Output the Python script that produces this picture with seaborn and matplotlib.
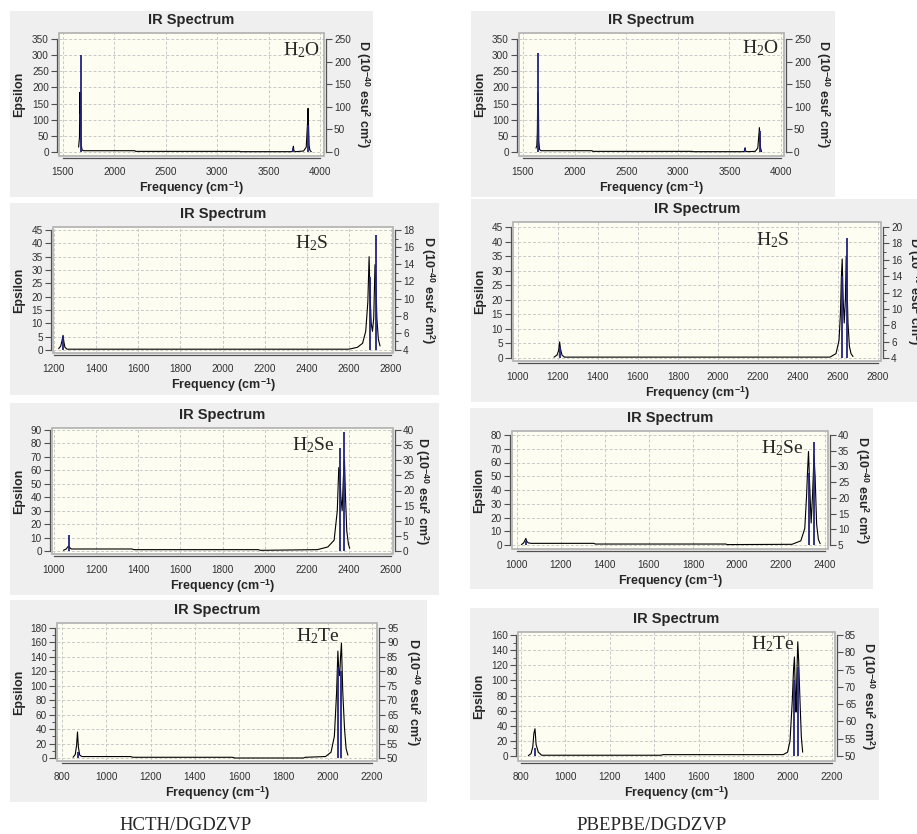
import matplotlib
matplotlib.use("Agg")
import matplotlib.pyplot as plt
from matplotlib.patches import Rectangle
from matplotlib.ticker import MultipleLocator
import seaborn as sns

W, H = 917, 834

# ---- spectra: frequency (cm-1), epsilon curve, sticks (D, 1e-40 esu2 cm2)
h2o_hcth_freq = [1652, 1660, 1665, 1668, 1671, 1674, 1678, 1686, 1700, 2200, 2205, 3220, 3225,
                 3725, 3736, 3741, 3746, 3760, 3840, 3866, 3878, 3884, 3889, 3894, 3902, 3915]
h2o_hcth_eps = [15, 45, 185, 120, 165, 60, 20, 6, 4, 4, 2, 2, 1,
                1, 5, 18, 4, 1, 3, 15, 85, 135, 78, 20, 5, 1]
h2o_hcth_stick_freq = [1671, 3741, 3886]
h2o_hcth_stick_d = [214, 8, 60]

h2o_pbe_freq = [1626, 1634, 1639, 1643, 1646, 1649, 1653, 1660, 1675, 2170, 2175, 3140, 3145,
                3635, 3647, 3652, 3657, 3670, 3750, 3775, 3786, 3791, 3796, 3802, 3812]
h2o_pbe_eps = [12, 20, 60, 185, 150, 160, 35, 8, 4, 4, 2, 2, 1,
               1, 4, 13, 3, 1, 2, 12, 55, 75, 40, 12, 1]
h2o_pbe_stick_freq = [1646, 3652, 3792]
h2o_pbe_stick_d = [218, 8, 46]

h2s_hcth_freq = [1222, 1232, 1238, 1243, 1247, 1252, 1262, 1280, 2600, 2640, 2665, 2680, 2690,
                 2696, 2700, 2706, 2712, 2718, 2724, 2728, 2733, 2740, 2748]
h2s_hcth_eps = [0.5, 1.5, 3.5, 5.5, 3, 1, 0.3, 0.3, 0.3, 1, 2.5, 7, 18,
                35, 22, 10, 7, 12, 32, 26, 12, 4, 1.5]
h2s_hcth_stick_freq = [1245, 2698, 2728]
h2s_hcth_stick_d = [5.6, 12.5, 17.4]

h2s_pbe_freq = [1180, 1195, 1203, 1208, 1213, 1220, 1232, 1250, 2560, 2590, 2605, 2612, 2617,
                2621, 2626, 2631, 2637, 2641, 2645, 2650, 2657, 2665, 2675]
h2s_pbe_eps = [0.3, 1, 2.5, 5.5, 3, 1, 0.3, 0.3, 0.3, 1.5, 6, 15, 28,
               34, 20, 12, 20, 35, 25, 12, 4, 1.5, 0.5]
h2s_pbe_stick_freq = [1210, 2621, 2643]
h2s_pbe_stick_d = [5.4, 14.0, 18.6]

h2se_hcth_freq = [1045, 1058, 1065, 1070, 1075, 1082, 1095, 1370, 1380, 1970, 1980, 2250, 2300,
                  2330, 2345, 2352, 2357, 2362, 2368, 2374, 2379, 2384, 2390, 2398, 2404]
h2se_hcth_eps = [0.5, 1.5, 3, 3.5, 2.5, 1.5, 1.5, 1.5, 1, 1, 0.5, 1, 3,
                 8, 30, 62, 60, 40, 30, 55, 68, 40, 15, 5, 2]
h2se_hcth_stick_freq = [1072, 2357, 2379]
h2se_hcth_stick_d = [5.2, 34, 39.5]

h2se_pbe_freq = [1020, 1030, 1035, 1040, 1045, 1052, 1065, 1350, 1355, 1950, 1955, 2250, 2290,
                 2308, 2316, 2321, 2325, 2330, 2337, 2343, 2350, 2355, 2362, 2370, 2378]
h2se_pbe_eps = [0.3, 1.5, 3, 4.8, 2.5, 1.5, 1.2, 1.2, 0.7, 0.7, 0.3, 0.5, 3,
                12, 35, 55, 68, 45, 16, 35, 65, 50, 15, 4, 1]
h2se_pbe_stick_freq = [1040, 2325, 2351]
h2se_pbe_stick_d = [6.3, 28, 37.8]

h2te_hcth_freq = [850, 860, 866, 870, 874, 880, 890, 1110, 1120, 1570, 1580, 1890, 1900, 1990,
                  2015, 2030, 2040, 2046, 2050, 2054, 2058, 2062, 2068, 2076, 2083, 2091]
h2te_hcth_eps = [1, 5, 18, 36, 15, 4, 2, 2, 1, 1, 0, 0, 1, 2,
                 8, 30, 90, 148, 120, 114, 140, 159, 91, 40, 13, 4]
h2te_hcth_stick_freq = [870, 2047, 2060]
h2te_hcth_stick_d = [52, 81.5, 80.2]

h2te_pbe_freq = [833, 845, 853, 858, 863, 868, 878, 893, 1430, 1440, 1980, 2000, 2011, 2021,
                 2027, 2031, 2035, 2038, 2042, 2046, 2050, 2056, 2062, 2068]
h2te_pbe_eps = [0.5, 3, 12, 30, 36, 15, 5, 1, 1, 1.8, 1.8, 5, 20, 72,
                115, 131, 80, 58, 110, 151, 125, 72, 25, 5]
h2te_pbe_stick_freq = [862, 2031, 2046]
h2te_pbe_stick_d = [52.2, 72, 75.8]

# ---- axis ticks
h2o_xticks = [1500, 2000, 2500, 3000, 3500, 4000]
h2o_eps_ticks = [0, 50, 100, 150, 200, 250, 300, 350]
h2o_d_ticks = [0, 50, 100, 150, 200, 250]
h2s_hcth_xticks = [1200, 1400, 1600, 1800, 2000, 2200, 2400, 2600, 2800]
h2s_pbe_xticks = [1000, 1200, 1400, 1600, 1800, 2000, 2200, 2400, 2600, 2800]
h2s_eps_ticks = [0, 5, 10, 15, 20, 25, 30, 35, 40, 45]
h2s_hcth_d_ticks = [4, 6, 8, 10, 12, 14, 16, 18]
h2s_pbe_d_ticks = [4, 6, 8, 10, 12, 14, 16, 18, 20]
h2se_hcth_xticks = [1000, 1200, 1400, 1600, 1800, 2000, 2200, 2400, 2600]
h2se_pbe_xticks = [1000, 1200, 1400, 1600, 1800, 2000, 2200, 2400]
h2se_hcth_eps_ticks = [0, 10, 20, 30, 40, 50, 60, 70, 80, 90]
h2se_pbe_eps_ticks = [0, 10, 20, 30, 40, 50, 60, 70, 80]
h2se_hcth_d_ticks = [0, 5, 10, 15, 20, 25, 30, 35, 40]
h2se_pbe_d_ticks = [5, 10, 15, 20, 25, 30, 35, 40]
h2te_xticks = [800, 1000, 1200, 1400, 1600, 1800, 2000, 2200]
h2te_hcth_eps_ticks = [0, 20, 40, 60, 80, 100, 120, 140, 160, 180]
h2te_pbe_eps_ticks = [0, 20, 40, 60, 80, 100, 120, 140, 160]
h2te_hcth_d_ticks = [50, 55, 60, 65, 70, 75, 80, 85, 90, 95]
h2te_pbe_d_ticks = [50, 55, 60, 65, 70, 75, 80, 85]

molecules = ['H$_\\mathrm{2}$O', 'H$_\\mathrm{2}$S', 'H$_\\mathrm{2}$Se', 'H$_\\mathrm{2}$Te']
methods = ['HCTH/DGDZVP', 'PBEPBE/DGDZVP']

# layout in pixels: grey panel, plot box, pixel of first/last x tick, pixel of first/last left tick
panels = [
    dict(freq=h2o_hcth_freq, eps=h2o_hcth_eps, sf=h2o_hcth_stick_freq, sd=h2o_hcth_stick_d,
         xt=h2o_xticks, lt=h2o_eps_ticks, rt=h2o_d_ticks, mol=molecules[0],
         grey=(10, 11, 373, 197), box=(59, 33, 324, 156), xpx=(63, 320), ypx=(152, 39),
         rlab=363, molpos=(301, 50), lminor=None, rminor=None),
    dict(freq=h2s_hcth_freq, eps=h2s_hcth_eps, sf=h2s_hcth_stick_freq, sd=h2s_hcth_stick_d,
         xt=h2s_hcth_xticks, lt=h2s_eps_ticks, rt=h2s_hcth_d_ticks, mol=molecules[1],
         grey=(10, 203, 439, 395), box=(53, 227, 393, 353), xpx=(54, 391), ypx=(350, 230),
         rlab=428, molpos=(312, 243), lminor=None, rminor=1),
    dict(freq=h2se_hcth_freq, eps=h2se_hcth_eps, sf=h2se_hcth_stick_freq, sd=h2se_hcth_stick_d,
         xt=h2se_hcth_xticks, lt=h2se_hcth_eps_ticks, rt=h2se_hcth_d_ticks, mol=molecules[2],
         grey=(10, 403, 439, 595), box=(52, 428, 393, 554), xpx=(54, 391), ypx=(551, 430),
         rlab=422, molpos=(313, 445), lminor=None, rminor=None),
    dict(freq=h2te_hcth_freq, eps=h2te_hcth_eps, sf=h2te_hcth_stick_freq, sd=h2te_hcth_stick_d,
         xt=h2te_xticks, lt=h2te_hcth_eps_ticks, rt=h2te_hcth_d_ticks, mol=molecules[3],
         grey=(10, 600, 427, 802), box=(57, 623, 377, 761), xpx=(62, 372), ypx=(758, 628),
         rlab=413, molpos=(318, 636), lminor=10, rminor=None),
    dict(freq=h2o_pbe_freq, eps=h2o_pbe_eps, sf=h2o_pbe_stick_freq, sd=h2o_pbe_stick_d,
         xt=h2o_xticks, lt=h2o_eps_ticks, rt=h2o_d_ticks, mol=molecules[0],
         grey=(471, 11, 835, 197), box=(519, 33, 784, 156), xpx=(523, 781), ypx=(152, 39),
         rlab=823, molpos=(760, 48), lminor=None, rminor=None),
    dict(freq=h2s_pbe_freq, eps=h2s_pbe_eps, sf=h2s_pbe_stick_freq, sd=h2s_pbe_stick_d,
         xt=h2s_pbe_xticks, lt=h2s_eps_ticks, rt=h2s_pbe_d_ticks, mol=molecules[1],
         grey=(471, 199, 917, 402), box=(513, 222, 881, 361), xpx=(518, 878), ypx=(358, 227),
         rlab=914, molpos=(773, 240), lminor=None, rminor=1),
    dict(freq=h2se_pbe_freq, eps=h2se_pbe_eps, sf=h2se_pbe_stick_freq, sd=h2se_pbe_stick_d,
         xt=h2se_pbe_xticks, lt=h2se_pbe_eps_ticks, rt=h2se_pbe_d_ticks, mol=molecules[2],
         grey=(470, 408, 873, 589), box=(512, 431, 828, 549), xpx=(517, 825), ypx=(545, 435),
         rlab=862, molpos=(782, 448), lminor=None, rminor=None),
    dict(freq=h2te_pbe_freq, eps=h2te_pbe_eps, sf=h2te_pbe_stick_freq, sd=h2te_pbe_stick_d,
         xt=h2te_xticks, lt=h2te_pbe_eps_ticks, rt=h2te_pbe_d_ticks, mol=molecules[3],
         grey=(470, 608, 879, 800), box=(518, 632, 835, 761), xpx=(521, 832), ypx=(756, 635),
         rlab=868, molpos=(773, 644), lminor=10, rminor=None),
]

sns.set_style("white")
plt.rcParams['font.family'] = ['Liberation Sans', 'DejaVu Sans']
plt.rcParams['mathtext.fontset'] = 'custom'
plt.rcParams['mathtext.rm'] = 'Liberation Serif'
plt.rcParams['mathtext.it'] = 'Liberation Serif:italic'
plt.rcParams['mathtext.bf'] = 'Liberation Sans:bold'

AX_COL = '#505050'
STICK = '#23237e'


def fx(px):
    return px / W


def fy(py):
    return 1 - py / H


def remap(a0, a1, p0, p1, q):
    # value at position q when a0 sits at p0 and a1 at p1
    return a0 + (q - p0) * (a1 - a0) / (p1 - p0)


fig = plt.figure(figsize=(W / 100, H / 100), dpi=100, facecolor='white')

for p in panels:
    gx0, gy0, gx1, gy1 = p['grey']
    bx0, by0, bx1, by1 = p['box']
    fig.add_artist(Rectangle((fx(gx0), fy(gy1)), (gx1 - gx0) / W, (gy1 - gy0) / H,
                             transform=fig.transFigure, facecolor='#efefef', edgecolor='none', zorder=0))

    ax = fig.add_axes([fx(bx0), fy(by1), (bx1 - bx0) / W, (by1 - by0) / H])
    ax.set_facecolor('#fdfdf1')
    xt, lt, rt = p['xt'], p['lt'], p['rt']
    ax.set_xlim(remap(xt[0], xt[-1], *p['xpx'], bx0), remap(xt[0], xt[-1], *p['xpx'], bx1))
    ylo = remap(lt[0], lt[-1], *p['ypx'], by1)
    yhi = remap(lt[0], lt[-1], *p['ypx'], by0)
    ax.set_ylim(ylo, yhi)

    # right axis shares the pixel positions of the left ticks
    ax2 = ax.twinx()
    ax2.set_ylim(remap(rt[0], rt[-1], lt[0], lt[-1], ylo), remap(rt[0], rt[-1], lt[0], lt[-1], yhi))

    ax.grid(True, which='major', color='#c9c9c9', linestyle=(0, (3, 2)), linewidth=0.7)
    ax.set_axisbelow(True)

    sns.lineplot(x=p['freq'], y=p['eps'], ax=ax, color='black', linewidth=0.8,
                 estimator=None, sort=False)
    ax2.vlines(p['sf'], rt[0], p['sd'], color=STICK, linewidth=1.3)

    # light frame of the plot area
    ax.add_patch(Rectangle((0, 0), 1, 1, transform=ax.transAxes, fill=False,
                           edgecolor='#b0b0b0', linewidth=1.2, clip_on=False, zorder=5))

    ax.set_xticks(xt)
    ax.set_yticks(lt)
    ax2.set_yticks(rt)
    ax.xaxis.set_minor_locator(MultipleLocator(50))
    if p['lminor']:
        ax.yaxis.set_minor_locator(MultipleLocator(p['lminor']))
    if p['rminor']:
        ax2.yaxis.set_minor_locator(MultipleLocator(p['rminor']))

    for s in ['top', 'right']:
        ax.spines[s].set_visible(False)
    for s in ['top', 'left', 'bottom']:
        ax2.spines[s].set_visible(False)
    ax.spines['left'].set_position(('outward', 1.5))
    ax.spines['bottom'].set_position(('outward', 1.5))
    ax2.spines['right'].set_position(('outward', 1.5))
    ax.spines['left'].set_bounds(lt[0], lt[-1])
    ax.spines['bottom'].set_bounds(xt[0], xt[-1])
    ax2.spines['right'].set_bounds(rt[0], rt[-1])
    for sp in [ax.spines['left'], ax.spines['bottom'], ax2.spines['right']]:
        sp.set_color(AX_COL)
        sp.set_linewidth(0.9)

    ax.tick_params(axis='x', which='major', length=4, width=0.8, color=AX_COL,
                   labelsize=7.2, labelcolor='#303030', pad=2.5, direction='out')
    ax.tick_params(axis='x', which='minor', length=3, width=0.7, color=AX_COL, direction='out')
    ax.tick_params(axis='y', which='major', length=4.5, width=0.8, color=AX_COL,
                   labelsize=7.2, labelcolor='#303030', pad=1.2, direction='out')
    ax.tick_params(axis='y', which='minor', length=2.5, width=0.7, color=AX_COL, direction='out')
    ax2.tick_params(axis='y', which='major', length=4.5, width=0.8, color=AX_COL,
                    labelsize=7.2, labelcolor='#303030', pad=1.2, direction='out')
    ax2.tick_params(axis='y', which='minor', length=2.5, width=0.7, color=AX_COL, direction='out')
    ax.set_xlabel('')
    ax.set_ylabel('')

    cx = (bx0 + bx1) / 2
    cy = (by0 + by1) / 2
    fig.text(fx(cx), fy(by0 - 13), 'IR Spectrum', ha='center', va='center',
             fontsize=10.5, fontweight='bold')
    fig.text(fx(cx), fy(by1 + 32), 'Frequency (cm$^{\\mathbf{-1}}$)', ha='center', va='center',
             fontsize=9, fontweight='bold')
    fig.text(fx(gx0 + 9), fy(cy), 'Epsilon', ha='center', va='center', rotation=90,
             fontsize=9, fontweight='bold')
    fig.text(fx(p['rlab']), fy(cy), 'D (10$^{\\mathbf{-40}}$ esu$^{\\mathbf{2}}$ cm$^{\\mathbf{2}}$)',
             ha='center', va='center', rotation=270, fontsize=9, fontweight='bold')
    fig.text(fx(p['molpos'][0]), fy(p['molpos'][1]), p['mol'], ha='center', va='center',
             fontsize=14, family='Liberation Serif')

fig.text(fx(186), fy(825), methods[0], ha='center', va='center', fontsize=13.5, family='Liberation Serif')
fig.text(fx(652), fy(825), methods[1], ha='center', va='center', fontsize=13.5, family='Liberation Serif')

fig.savefig('out.png', dpi=100, facecolor='white')
